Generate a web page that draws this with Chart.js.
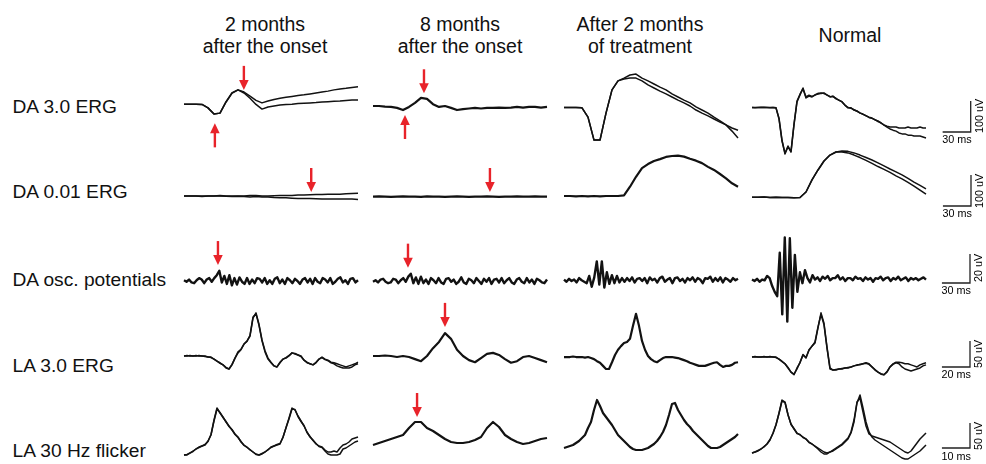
<!DOCTYPE html>
<html>
<head>
<meta charset="utf-8">
<script src="https://cdn.jsdelivr.net/npm/chart.js"></script>
<style>
html, body { margin: 0; padding: 0; background: #fff; }
#fig { position: relative; width: 986px; height: 464px; overflow: hidden;
       font-family: "Liberation Sans", Arial, sans-serif; color: #111; }
#fig canvas { position: absolute; }
.t { position: absolute; white-space: nowrap; }
.hd { font-size: 19.5px; line-height: 22.6px; text-align: center; transform: translateX(-50%); }
.rl { font-size: 19.2px; line-height: 19.2px; }
.ms { font-size: 10.8px; line-height: 10.8px; color: #000; }
.uv { font-size: 10.8px; line-height: 10.8px; color: #000; transform: translate(-50%, -50%) rotate(-90deg); }
</style>
</head>
<body>
<div id="fig"></div>
<script>
// column headers and row names
const headers = [['2 months', 'after the onset'], ['8 months', 'after the onset'],
                 ['After 2 months', 'of treatment'], ['Normal']];
const rowLabels = ['DA 3.0 ERG', 'DA 0.01 ERG', 'DA osc. potentials', 'LA 3.0 ERG', 'LA 30 Hz flicker'];

// sweep length of one trace (ms) and calibration bars
const sweepMs = [186, 186, 186, 124, 62];
const barMs = [30, 30, 30, 20, 10];
const barUv = [100, 100, 20, 50, 50];

// DA 3.0 ERG (uV)
const da3_m2a = [6,6,6,5,-6,-26,-23,13,42,52,45,32,18,10,16,21,25,28,31,34,36,39,42,45,48,52,55,57,60,62];
const da3_m2b = [6,6,6,5,-6,-26,-23,13,42,52,42,25,5,-10,-3,0,3,5,6,8,9,10,11,13,14,15,16,18,19,19];
const da3_m8 = [0,0,-2,-3,-6,-13,-3,10,26,23,6,-3,0,-6,-13,-10,-8,-6,-8,-6,-6,-5,-6,-5,-3,-5,-3,-3,-5,-3];
const da3_txa = [-5,-5,-5,-6,-36,-110,-110,-23,52,81,90,100,103,90,81,71,61,52,39,29,19,10,-3,-13,-23,-36,-48,-61,-81,-103];
const da3_txb = [-5,-5,-5,-6,-36,-110,-110,-23,52,81,87,90,90,81,68,58,48,39,29,19,10,0,-13,-23,-32,-42,-52,-61,-71,-78];
const da3_norma = [-5,-5,-5,-5,-4,-5,-5,-5,-6,-39,-110,-155,-129,-149,-61,13,36,58,26,32,29,36,39,42,40,36,29,32,23,19,
                   13,3,-6,-6,-13,-16,-23,-26,-32,-36,-39,-45,-48,-55,-61,-65,-68,-68,-68,-71,-71,-71,-68,-71,-71,-71,-68,-71,-71];
const da3_normb = [-5,-6,-5,-4,-5,-5,-6,-5,-6,-42,-113,-152,-132,-146,-58,16,38,55,29,35,31,35,41,40,42,35,31,30,25,18,
                   14,2,-5,-7,-12,-17,-22,-27,-31,-37,-40,-44,-50,-54,-62,-68,-74,-78,-81,-87,-90,-90,-94,-94,-97,-97,-97,-100,-103];

// DA 0.01 ERG (uV)
const da001_m2a = [0,0,0,-2,0,0,2,0,0,0,0,2,2,0,0,1,2,2,2,3,3,4,5,5,6,6,6,7,8,9];
const da001_m2b = [0,0,0,0,0,0,0,-1,-2,-1,-2,-3,-2,-3,-3,-5,-6,-6,-7,-8,-8,-8,-9,-10,-10,-10,-10,-10,-10,-11];
const da001_m8 = [-2,-1,-2,-3,-2,-1,-2,-2,-3,-1,-2,-2,-3,-2,-1,-2,-3,-2,-2,-1,-2,-3,-2,-2,-1,-2,-2,-1,-2,-2];
const da001_tx = [0,0,-1,0,-1,0,-1,0,0,0,2,30,62,90,103,113,119,126,129,130,127,120,114,106,94,84,71,57,41,30];
const da001_norma = [-4,-4,-3,-5,-4,-5,-5,-6,-5,13,52,84,113,132,142,145,144,139,132,124,116,107,97,87,78,68,57,45,34,23];
const da001_normb = [-4,-4,-3,-5,-4,-5,-5,-6,-5,13,52,84,113,132,142,142,139,132,124,115,105,95,86,76,65,55,44,32,19,6];

// DA oscillatory potentials (uV)
const ops_m2 = [0.5,-0.5,1,-1,-1.5,0.5,2,1,-1.5,1, 2,-0.5,2,4,7,-1,3.5,-2,4,-3, 2,-2.5,2.5,-0.5,-2,2,-2,1,-1.5,2,
                1.5,-1,2,-2,0.5,-2,1.5,2.5,-1.5,1, -2,2,0.5,-1.5,1.5,0,-2,1,2,-1, 1.5,-2,2,-0.5,-1.5,2,1,-1,2,-2,
                -0.5,1.5,2.5,-1,0.5,-2,1.5,2,-1,0.5];
const ops_m8 = [-0.5,0.5,-1,1,1.5,-0.5,-1.5,-1,1.5,1, -1.5,0.5,2,-0.5,3,5,-1.5,2.5,-2,3, -1.5,1,-2,2,0.5,-1.5,2,-1,-2,1.5,
                2,-0.5,1,-2,-0.5,2.5,-1,-2,1.5,0.5, -1.5,2,0,-2,1.5,-0.5,2,-2,1,1.5, -1,2,-1.5,0.5,2,-1,-2,1,2,-0.5,
                -1.5,2,-1,1,-2,1.5,0.5,-1,-1.5,1];
const ops_tx = [1,-0.5,1.5,0,1,-1,2,0.5,-0.5,-1.5, 3.5,-4,2.5,13.5,-2.5,13.5,-4.5,6,-2,4, -1.5,3.5,-1,2,-0.5,2,0,2.5,-1,1.5,
                2,0,2,-1.5,2.5,0.5,1.5,-1,2,3, -0.5,1,2,-1.5,2,2.5,0,1.5,-1,2, 0.5,2.5,-0.5,2,1,-1.5,2,1.5,3,-0.5,
                2,0,2.5,-1,2,1,-0.5,2,0.5,1.5];
const ops_norm = [1,0,1.5,-0.5,1,0.5,3.5,2,-3.5,-7.5, -10.5,19.5,-23,30,-28,29.5,-18.5,18,-7.5,6, -1.5,7.5,2,-1,4,1,2.5,0,3,1.5,
                  3.5,0.5,2,2,4,1,2.5,0,2,2, 0.5,3,1.5,2,0,2.5,1,2,-0.5,2, 1.5,3,0.5,2,2.5,0,2,1,3,0.5,
                  1.5,2.5,0,2,1,2,0.5,1.5,2.5,1];

// LA 3.0 ERG (uV)
const la3_m2a = [0,0,1,0,0,1,0,0,-2,-2,-6,-10,-13,-17,-23,-25,-17,-4,8,13,23,29,38,73,83,61,31,10,-4,-12,
                 -19,-21,-12,-6,-4,0,6,4,2,0,-8,-13,-15,-17,-12,-6,-2,-6,-8,-12,-13,-15,-17,-19,-21,-19,-17,-15,-12];
const la3_m2b = [0,1,0,0,1,0,0,-1,-2,-3,-6,-10,-14,-17,-22,-25,-16,-4,6,12,23,28,40,75,81,59,29,8,-6,-13,
                 -19,-21,-13,-6,-3,1,6,5,2,-1,-8,-12,-15,-17,-13,-6,-3,-7,-9,-13,-15,-19,-21,-23,-23,-23,-21,-17,-15];
const la3_m8 = [0,0,1,0,-2,0,-2,-6,-10,0,15,27,44,33,12,0,-8,-12,-4,4,6,2,-6,-13,-10,-2,0,-4,-8,-12];
const la3_tx = [-2,-2,-2,-1,-2,-2,-2,-3,-2,-4,-6,-10,-13,-19,-25,-25,-12,2,12,19,25,27,33,58,81,58,29,12,0,-6,
                -10,-12,-8,-4,-2,-2,-2,-3,-4,-6,-8,-10,-13,-15,-17,-19,-19,-19,-17,-15,-13,-12,-17,-21,-19,-19,-17,-13,-12];
const la3_norma = [-2,-2,-2,-2,-1,-2,-2,-2,-2,-6,-10,-15,-23,-31,-36,-23,-13,2,-4,12,19,25,54,83,63,17,-23,-27,-27,-25,
                   -25,-23,-23,-21,-19,-17,-17,-15,-13,-15,-21,-27,-31,-35,-36,-31,-21,-15,-12,-12,-13,-15,-15,-17,-19,-21,-17,-15,-13];
const la3_normb = [-2,-1,-2,-2,-2,-2,-1,-2,-3,-6,-11,-15,-22,-31,-35,-25,-12,3,-3,11,19,27,56,80,60,15,-25,-27,-26,-25,
                   -24,-23,-22,-21,-19,-18,-16,-15,-14,-16,-21,-26,-31,-34,-36,-30,-21,-16,-13,-15,-21,-25,-27,-29,-27,-25,-23,-19,-17];

// LA 30 Hz flicker (uV)
const flk_m2a = [-10,-10,-6,-2,2,6,8,10,18,30,60,84,74,66,56,48,40,32,26,16,10,6,0,-4,-8,-10,-8,-4,0,6,
                 8,10,12,26,44,64,84,80,68,58,48,36,26,20,12,8,6,0,-4,-4,-2,-4,4,10,12,16,22,24,26];
const flk_m2b = [-10,-9,-6,-3,2,5,8,11,17,31,58,82,75,65,57,47,41,31,25,17,9,5,1,-4,-9,-10,-7,-4,1,5,
                 8,11,13,25,45,62,82,81,67,57,49,35,27,19,13,7,5,-2,-8,-10,-10,-10,-8,2,4,8,12,16,18];
const flk_m8 = [10,14,18,22,26,30,44,56,56,44,38,30,22,16,14,14,16,20,26,44,56,46,30,22,16,12,14,18,22,24];
const flk_tx = [4,6,8,10,14,18,24,30,44,56,80,100,88,74,66,58,50,40,30,24,18,12,6,2,0,0,0,2,4,8,
                12,18,26,36,50,70,92,94,80,70,60,52,46,38,32,26,20,14,8,4,4,4,6,10,14,18,22,26,32];
const flk_norma = [-6,-4,-2,2,6,12,20,34,50,74,100,96,70,52,42,34,30,26,22,16,12,8,4,0,-4,-6,-4,0,4,8,
                   12,18,24,36,60,96,104,76,48,32,28,26,24,22,20,18,16,12,8,4,0,-4,-6,-2,6,14,22,28,34];
const flk_normb = [-6,-4,-1,2,7,12,21,33,51,73,98,95,71,51,43,33,31,25,22,15,12,7,2,-4,-8,-8,-4,-2,2,6,
                   10,16,22,34,56,94,110,84,56,36,26,20,16,12,8,4,0,-4,-8,-12,-16,-18,-18,-14,-10,-6,-2,4,10];

// red arrows: row, column, time (ms), tip value (uV), direction
const arrowRow = [0, 0, 0, 0, 1, 1, 2, 2, 3, 4];
const arrowCol = [0, 0, 1, 1, 0, 1, 0, 1, 1, 1];
const arrowMs = [64, 33, 54.5, 34.2, 136, 125, 36.3, 37.4, 51.3, 15.7];
const arrowUv = [52, -56, 41, -29, 13, 13, 11, 9.2, 56, 66];
const arrowDir = ['down', 'up', 'down', 'up', 'down', 'down', 'down', 'down', 'down', 'down'];

const rowTraces = [
    [[da3_m2a, da3_m2b], [da3_m8], [da3_txa, da3_txb], [da3_norma, da3_normb]],
    [[da001_m2a, da001_m2b], [da001_m8], [da001_tx], [da001_norma, da001_normb]],
    [[ops_m2], [ops_m8], [ops_tx], [ops_norm]],
    [[la3_m2a, la3_m2b], [la3_m8], [la3_tx], [la3_norma, la3_normb]],
    [[flk_m2a, flk_m2b], [flk_m8], [flk_tx], [flk_norma, flk_normb]]
];

// layout (pixels)
const colLeft = [184, 373, 564, 752];
const cellW = 174;
const padX = 4;
const rowBase = [106, 196, 281, 356, 450];
const rowTop = [56, 150, 222, 292, 384];
const rowBottom = [164, 216, 332, 388, 464];
const pxPerUv = [0.31, 0.31, 1.45, 0.52, 0.5];
const barRight = [970.7, 971, 970, 970, 970];
const barY = [131.7, 206, 282.7, 366.7, 448.3];
const headerX = [265, 460, 640, 850];
const labelTop = [97, 182, 269.8, 356.4, 441];

const fig = document.getElementById('fig');

const arrowPlugin = {
    id: 'arrows',
    afterDatasetsDraw(chart, args, opts) {
        const items = opts.items || [];
        const ctx = chart.ctx;
        const xs = chart.scales.x, ys = chart.scales.y;
        ctx.save();
        ctx.strokeStyle = '#e8232a';
        ctx.fillStyle = '#e8232a';
        ctx.lineWidth = 2.4;
        items.forEach(a => {
            const px = xs.getPixelForValue(a.ms);
            const py = ys.getPixelForValue(a.uv);
            const s = a.dir === 'down' ? -1 : 1; // side where the tail is
            ctx.beginPath();
            ctx.moveTo(px, py + s * 24);
            ctx.lineTo(px, py + s * 9);
            ctx.stroke();
            ctx.beginPath();
            ctx.moveTo(px, py);
            ctx.lineTo(px - 4.8, py + s * 10);
            ctx.lineTo(px + 4.8, py + s * 10);
            ctx.closePath();
            ctx.fill();
        });
        ctx.restore();
    }
};

function addCanvas(left, top, w, h) {
    const cv = document.createElement('canvas');
    cv.width = w;
    cv.height = h;
    cv.style.left = left + 'px';
    cv.style.top = top + 'px';
    cv.style.width = w + 'px';
    cv.style.height = h + 'px';
    fig.appendChild(cv);
    return cv;
}

function addText(cls, text, left, top) {
    const d = document.createElement('div');
    d.className = 't ' + cls;
    d.textContent = text;
    d.style.left = left + 'px';
    d.style.top = top + 'px';
    fig.appendChild(d);
    return d;
}

function baseOptions(xMin, xMax, yMin, yMax) {
    return {
        responsive: false,
        animation: false,
        events: [],
        layout: { padding: 0 },
        scales: {
            x: { type: 'linear', display: false, min: xMin, max: xMax },
            y: { type: 'linear', display: false, min: yMin, max: yMax }
        },
        plugins: { legend: { display: false }, tooltip: { enabled: false } }
    };
}

function makeCell(r, c) {
    const traces = rowTraces[r][c];
    const pxMs = cellW / sweepMs[r];
    const cv = addCanvas(colLeft[c] - padX, rowTop[r], cellW + 2 * padX, rowBottom[r] - rowTop[r]);
    const lw = r === 2 ? 2.4 : (traces.length === 1 ? 2.2 : 1.5);

    const datasets = traces.map(vals => ({
        data: vals.map((v, i) => ({ x: i * sweepMs[r] / (vals.length - 1), y: v })),
        borderColor: '#121212',
        borderWidth: lw,
        pointRadius: 0,
        tension: 0,
        borderJoinStyle: 'round',
        clip: false
    }));

    const items = [];
    arrowRow.forEach((ar, k) => {
        if (ar === r && arrowCol[k] === c) {
            items.push({ ms: arrowMs[k], uv: arrowUv[k], dir: arrowDir[k] });
        }
    });

    const opts = baseOptions(-padX / pxMs, (cellW + padX) / pxMs,
                             -(rowBottom[r] - rowBase[r]) / pxPerUv[r],
                             (rowBase[r] - rowTop[r]) / pxPerUv[r]);
    opts.plugins.arrows = { items };

    new Chart(cv, { type: 'line', data: { datasets }, options: opts, plugins: [arrowPlugin] });
}

function makeScaleBar(r) {
    const pxMs = cellW / sweepMs[r];
    const x0 = barRight[r] - barMs[r] * pxMs;
    const left = 930, w = 50, top = barY[r] - 40, h = 46;
    const cv = addCanvas(left, top, w, h);
    const opts = baseOptions((left - x0) / pxMs, (left + w - x0) / pxMs,
                             -(top + h - barY[r]) / pxPerUv[r], (barY[r] - top) / pxPerUv[r]);
    new Chart(cv, {
        type: 'line',
        data: {
            datasets: [{
                data: [{ x: 0, y: 0 }, { x: barMs[r], y: 0 }, { x: barMs[r], y: barUv[r] }],
                borderColor: '#222',
                borderWidth: 1.3,
                pointRadius: 0,
                tension: 0,
                clip: false
            }]
        },
        options: opts
    });

    addText('ms', barMs[r] + ' ms', x0 - 0.5, barY[r] + 2.2);
    addText('uv', barUv[r] + ' uV', barRight[r] + 8, barY[r] - barUv[r] * pxPerUv[r] / 2);
}

// headers
headers.forEach((lines, c) => {
    const d = addText('hd', '', headerX[c], lines.length === 2 ? 12.6 : 24.2);
    d.innerHTML = lines.join('<br>');
});

// row labels
rowLabels.forEach((txt, r) => addText('rl', txt, 12.5, labelTop[r]));

for (let r = 0; r < rowTraces.length; r++) {
    for (let c = 0; c < 4; c++) makeCell(r, c);
    makeScaleBar(r);
}
</script>
</body>
</html>
